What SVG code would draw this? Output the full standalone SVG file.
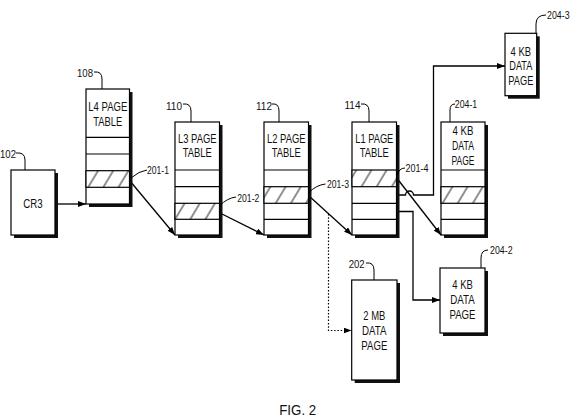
<svg xmlns="http://www.w3.org/2000/svg" width="576" height="417" viewBox="0 0 576 417">
<style>
.bg{fill:#fff}
.sh{fill:#111}
.box{fill:#fff;stroke:#000;stroke-width:1.2}
.hat{fill:url(#hatch);stroke:#000;stroke-width:1.2}
.row{fill:none;stroke:#000;stroke-width:1.2}
.t{font-family:"Liberation Sans Narrow","Liberation Sans",Arial,sans-serif;font-size:12.3px;text-anchor:middle;fill:#111}
.l{font-family:"Liberation Sans Narrow","Liberation Sans",Arial,sans-serif;font-size:11px;text-anchor:middle;fill:#111}
.lead{fill:none;stroke:#000;stroke-width:1}
.conn{fill:none;stroke:#000;stroke-width:1.3;marker-end:url(#ah)}
.dot{stroke-dasharray:1.5 1.8;stroke-width:1.2}
</style>
<defs>
<marker id="ah" markerUnits="userSpaceOnUse" markerWidth="8" markerHeight="6" refX="8" refY="3" orient="auto">
<path d="M0,0 L8,3 L0,6 z" fill="#000"/>
</marker>
<pattern id="hatch" width="13" height="10" patternUnits="userSpaceOnUse" patternTransform="rotate(31)">
<rect width="13" height="10" fill="#fff"/>
<line x1="3" y1="0" x2="3" y2="10" stroke="#222" stroke-width="1"/>
</pattern>
</defs>
<rect class="bg" width="576" height="417"/>

<g id="connectors">
<path class="conn" d="M55,204 H86"/>
<path class="conn" d="M130,181 L175,235"/>
<path class="conn" d="M220,213 L264,235"/>
<path class="conn" d="M309,196 L352,235"/>
<path class="conn" d="M397.5,179 L441,235"/>
<path class="conn" d="M396.5,195 H405.5 A4,4 0 0 1 413.5,195 H433.5 V66 H505"/>
<path class="conn" d="M396.5,211.5 H413 V300 H440"/>
<path class="conn dot" d="M328.5,214 V330.5 H351.5"/>
</g>

<g id="n102">
<rect class="sh" x="14" y="173" width="44" height="65"/>
<rect class="box" x="11" y="170" width="44" height="65"/>
<text class="t" x="33" y="208.3" textLength="19.5" lengthAdjust="spacingAndGlyphs">CR3</text>
<path class="lead" d="M16,153 Q25,152 25,160 V170"/>
<text class="l" x="8" y="158" textLength="16" lengthAdjust="spacingAndGlyphs">102</text>
</g>

<g id="n108">
<rect class="sh" x="89" y="92" width="43.5" height="115"/>
<rect class="box" x="86" y="89" width="43.5" height="115"/>
<rect class="hat" x="86" y="170.7" width="43.5" height="16.6"/>
<path class="row" d="M86,137.3 h43.5 M86,154 h43.5"/>
<text class="t" x="107.8" y="110.5" textLength="39" lengthAdjust="spacingAndGlyphs">L4 PAGE</text>
<text class="t" x="107.8" y="125.7" textLength="29" lengthAdjust="spacingAndGlyphs">TABLE</text>
<path class="lead" d="M94,72 Q102,71 102,79 V89"/>
<text class="l" x="85" y="77" textLength="16" lengthAdjust="spacingAndGlyphs">108</text>
<path class="lead" d="M147,170 Q139,171 131,178"/>
<text class="l" x="158" y="174" textLength="22" lengthAdjust="spacingAndGlyphs">201-1</text>
</g>

<g id="n110">
<rect class="sh" x="178" y="125" width="44.5" height="113"/>
<rect class="box" x="175" y="122" width="44.5" height="113"/>
<rect class="hat" x="175" y="203.3" width="44.5" height="16"/>
<path class="row" d="M175,170 h44.5 M175,186.7 h44.5"/>
<text class="t" x="197.3" y="143" textLength="38.5" lengthAdjust="spacingAndGlyphs">L3 PAGE</text>
<text class="t" x="197.3" y="157.3" textLength="29" lengthAdjust="spacingAndGlyphs">TABLE</text>
<path class="lead" d="M183,104 Q191,103 191,111 V122"/>
<text class="l" x="174" y="109.5" textLength="16" lengthAdjust="spacingAndGlyphs">110</text>
<path class="lead" d="M236,197 Q227,198 219.5,206"/>
<text class="l" x="248.3" y="201.5" textLength="22" lengthAdjust="spacingAndGlyphs">201-2</text>
</g>

<g id="n112">
<rect class="sh" x="267" y="125" width="44.5" height="113"/>
<rect class="box" x="264" y="122" width="44.5" height="113"/>
<rect class="hat" x="264" y="186.7" width="44.5" height="16.6"/>
<path class="row" d="M264,170 h44.5 M264,219.3 h44.5"/>
<text class="t" x="286.3" y="143" textLength="38.5" lengthAdjust="spacingAndGlyphs">L2 PAGE</text>
<text class="t" x="286.3" y="157.3" textLength="29" lengthAdjust="spacingAndGlyphs">TABLE</text>
<path class="lead" d="M272,104 Q279,103 279,111 V122"/>
<text class="l" x="264" y="109.5" textLength="16" lengthAdjust="spacingAndGlyphs">112</text>
<path class="lead" d="M325.5,184 Q316,185 308.5,193"/>
<text class="l" x="338" y="187.5" textLength="22" lengthAdjust="spacingAndGlyphs">201-3</text>
</g>

<g id="n114">
<rect class="sh" x="355" y="125" width="44.5" height="113"/>
<rect class="box" x="352" y="122" width="44.5" height="113"/>
<rect class="hat" x="352" y="170" width="44.5" height="16.7"/>
<path class="row" d="M352,203.3 h44.5 M352,219.3 h44.5"/>
<text class="t" x="374.3" y="143" textLength="38" lengthAdjust="spacingAndGlyphs">L1 PAGE</text>
<text class="t" x="374.3" y="157.3" textLength="29" lengthAdjust="spacingAndGlyphs">TABLE</text>
<path class="lead" d="M361,104 Q369,103 369,111 V122"/>
<text class="l" x="352.5" y="108.5" textLength="16" lengthAdjust="spacingAndGlyphs">114</text>
<path class="lead" d="M405,168 Q399,168 396.5,176"/>
<text class="l" x="417" y="171.5" textLength="23" lengthAdjust="spacingAndGlyphs">201-4</text>
</g>

<g id="n204-1">
<rect class="sh" x="444" y="125" width="44" height="113"/>
<rect class="box" x="441" y="122" width="44" height="113"/>
<rect class="hat" x="441" y="186.7" width="44" height="16.6"/>
<path class="row" d="M441,170 h44 M441,219.3 h44"/>
<text class="t" x="463" y="134.7" textLength="21" lengthAdjust="spacingAndGlyphs">4 KB</text>
<text class="t" x="463" y="149.7" textLength="22" lengthAdjust="spacingAndGlyphs">DATA</text>
<text class="t" x="463" y="164.7" textLength="23" lengthAdjust="spacingAndGlyphs">PAGE</text>
<path class="lead" d="M455,104 Q450,104 450,110 V122"/>
<text class="l" x="466" y="108.2" textLength="22.5" lengthAdjust="spacingAndGlyphs">204-1</text>
</g>

<g id="n204-3">
<rect class="sh" x="508" y="36.3" width="31.7" height="62.4"/>
<rect class="box" x="505" y="33.3" width="31.7" height="62.4"/>
<text class="t" x="520.8" y="56" textLength="20.5" lengthAdjust="spacingAndGlyphs">4 KB</text>
<text class="t" x="520.8" y="70.3" textLength="23" lengthAdjust="spacingAndGlyphs">DATA</text>
<text class="t" x="520.8" y="85.3" textLength="25" lengthAdjust="spacingAndGlyphs">PAGE</text>
<path class="lead" d="M546,15 Q536,15 536,24 V33.3"/>
<text class="l" x="558.3" y="19" textLength="22.5" lengthAdjust="spacingAndGlyphs">204-3</text>
</g>

<g id="n204-2">
<rect class="sh" x="443" y="271" width="45" height="65"/>
<rect class="box" x="440" y="268" width="45" height="65"/>
<text class="t" x="462.5" y="289.3" textLength="20.5" lengthAdjust="spacingAndGlyphs">4 KB</text>
<text class="t" x="462.5" y="304.3" textLength="24.5" lengthAdjust="spacingAndGlyphs">DATA</text>
<text class="t" x="462.5" y="319.3" textLength="26" lengthAdjust="spacingAndGlyphs">PAGE</text>
<path class="lead" d="M488,250 Q481,250 481,258 V268"/>
<text class="l" x="501.3" y="254" textLength="22.5" lengthAdjust="spacingAndGlyphs">204-2</text>
</g>

<g id="n202">
<rect class="sh" x="354.7" y="283" width="45.3" height="100"/>
<rect class="box" x="351.7" y="280" width="45.3" height="100"/>
<text class="t" x="374.3" y="320.3" textLength="22" lengthAdjust="spacingAndGlyphs">2 MB</text>
<text class="t" x="374.3" y="335.3" textLength="24.5" lengthAdjust="spacingAndGlyphs">DATA</text>
<text class="t" x="374.3" y="350.3" textLength="26" lengthAdjust="spacingAndGlyphs">PAGE</text>
<path class="lead" d="M366,263 Q374,262 374,270 V280"/>
<text class="l" x="356.7" y="267.5" textLength="16" lengthAdjust="spacingAndGlyphs">202</text>
</g>

<g id="caption">
<text class="t" x="297.7" y="415" style="font-size:15px" textLength="37" lengthAdjust="spacingAndGlyphs">FIG. 2</text>
</g>
</svg>
